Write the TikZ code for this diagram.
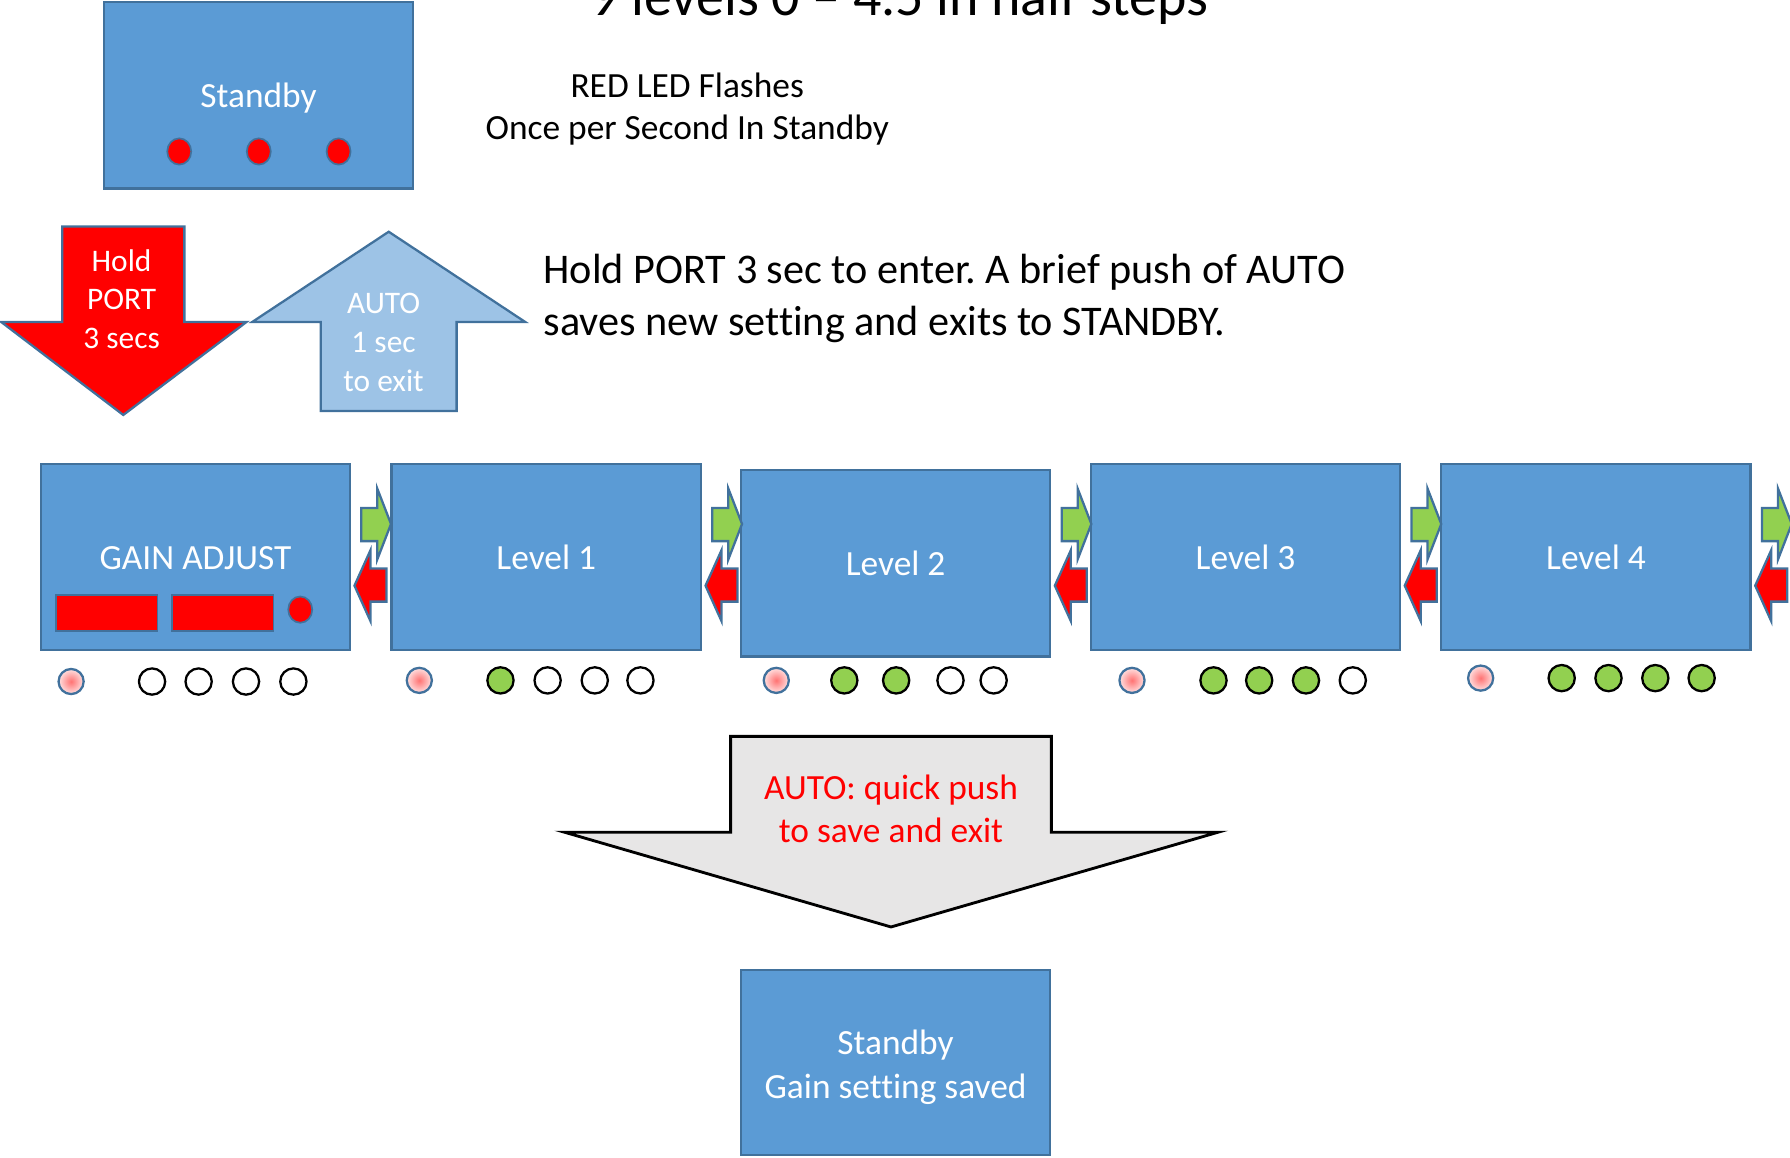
\documentclass[tikz,border=0pt]{standalone}
\usepackage{fontspec}
\setmainfont{Carlito}[Ligatures=NoCommon]
\frenchspacing
\usetikzlibrary{shapes.geometric}
\definecolor{boxblue}{HTML}{5B9BD5}
\definecolor{boxedge}{HTML}{41719C}
\definecolor{lightblue}{HTML}{9DC3E6}
\definecolor{grn}{HTML}{92D050}
\definecolor{graybg}{HTML}{E7E6E6}
\definecolor{ledred}{HTML}{FF0000}
\begin{document}
\begin{tikzpicture}[x=1pt,y=-1pt,
  box/.style={draw=boxedge, line width=2pt, fill=boxblue, minimum width=271pt,
    minimum height=163pt, inner sep=0pt, text=white, align=center,
    font=\fontsize{31}{38}\selectfont},
  oneline/.style={text height=24pt, text depth=2.5pt},
  plain/.style={inner sep=0pt, align=center},
  bigarrow/.style={draw=boxedge, line width=2pt, line join=miter},
  smallarrow/.style={draw=boxedge, line width=2pt, line join=miter},
  reddot/.style={ellipse, draw=boxedge, line width=1.5pt, fill=ledred,
    minimum width=21pt, minimum height=23pt, inner sep=0pt},
  redrect/.style={rectangle, draw=boxedge, line width=1.5pt, fill=ledred,
    minimum width=89pt, minimum height=32pt, inner sep=0pt},
  pinkled/.style={circle, draw=boxedge, line width=2pt, minimum size=22pt,
    inner sep=0pt, inner color=red!55, outer color=red!12},
  offled/.style={circle, draw=black, line width=2pt, minimum size=23pt,
    inner sep=0pt, fill=white},
  onled/.style={offled, fill=grn}]
\useasboundingbox (0,0) rectangle (1568,1014);

% title (cut at top, as in the reference)
\node[plain, anchor=base, font=\fontsize{49}{58}\selectfont] (title) at (788,14)
  {9 levels 0 – 4.5 in half steps};

% top standby box
\node[box, oneline] (sbtop) at (226.5,83.5) {Standby};
\node[reddot] (sd1) at (157,132.7) {};
\node[reddot] (sd2) at (226.7,132.7) {};
\node[reddot] (sd3) at (296.6,132.7) {};

\node[plain, anchor=base, font=\fontsize{31}{37}\selectfont] (redled) at (602,122.6)
  {RED LED Flashes\\Once per Second In Standby};

% big arrows
\draw[bigarrow, fill=ledred] (54.5,198.5) -- (161.5,198.5) -- (161.5,282) -- (216,282)
  -- (108,363.5) -- (1,282) -- (54.5,282) -- cycle;
\node[plain, anchor=base, text=white, font=\fontsize{27.5}{33.5}\selectfont] (holdtxt)
  at (106.5,305) {Hold\\PORT\\3 secs};

\draw[bigarrow, fill=lightblue] (340.5,203) -- (460,282) -- (400,282) -- (400,360)
  -- (281,360) -- (281,282) -- (221,282) -- cycle;
\node[plain, anchor=base, text=white, font=\fontsize{27.5}{34}\selectfont] (autotxt)
  at (336,343) {AUTO\\1 sec\\to exit};

\node[plain, anchor=base west, align=left, font=\fontsize{37}{45.5}\selectfont] (holdport)
  at (476,293.5) {Hold PORT 3 sec to enter. A brief push of AUTO\\saves new setting and exits to STANDBY.};

% row of level boxes
\node[box, oneline, minimum width=270.5pt] (gain) at (171.25,488) {GAIN ADJUST};
\node[box, oneline] (l1) at (478.5,488) {Level 1};
\node[box, oneline] (l2) at (784.5,493.5) {Level 2};
\node[box, oneline] (l3) at (1091,488) {Level 3};
\node[box, oneline] (l4) at (1398,488) {Level 4};

\node[redrect] (gr1) at (93.5,537) {};
\node[redrect] (gr2) at (195,537) {};
\node[reddot] (gd) at (263,534) {};

% step arrows between boxes
\foreach \a in {gain,l1,l2,l3,l4} {
  \coordinate (ga\a) at (\a.east |- 0,445);
  \draw[smallarrow, fill=grn] ([xshift=9pt]ga\a) -- ++(14,0) -- ++(0,-17) -- ++(12,31)
    -- ++(-12,31) -- ++(0,-16) -- ++(-14,0) -- cycle;
  \coordinate (ra\a) at (\a.east |- 0,498);
  \draw[smallarrow, fill=ledred] ([xshift=31pt]ra\a) -- ++(-14,0) -- ++(0,-16) -- ++(-14,31)
    -- ++(14,31) -- ++(0,-17) -- ++(14,0) -- cycle;
}

% LED rows
\node[pinkled] (p0) at (62.3,597) {};
\foreach \x [count=\i] in {133.2,174,215.5,257} \node[offled] (a\i) at (\x,597) {};

\node[pinkled] (p1) at (367.3,596) {};
\node[onled] (b1) at (438.4,596) {};
\foreach \x [count=\i from 2] in {479.7,521,561} \node[offled] (b\i) at (\x,596) {};

\node[pinkled] (p2) at (680,596) {};
\foreach \x [count=\i] in {739.6,785} \node[onled] (c\i) at (\x,596) {};
\foreach \x [count=\i from 3] in {832.6,870.4} \node[offled] (c\i) at (\x,596) {};

\node[pinkled] (p3) at (991.6,596) {};
\foreach \x [count=\i] in {1063,1103,1144} \node[onled] (d\i) at (\x,596) {};
\node[offled] (d4) at (1185,596) {};

\node[pinkled] (p4) at (1297,594) {};
\foreach \x [count=\i] in {1368,1409,1450,1490.6} \node[onled] (e\i) at (\x,594) {};

% gray exit arrow
\draw[line width=2.5pt, draw=black, fill=graybg, line join=miter] (640,645) -- (921,645)
  -- (921,729) -- (1067,729) -- (780.5,812) -- (494.5,729) -- (640,729) -- cycle;
\node[plain, anchor=base, text=ledred, font=\fontsize{31}{37.5}\selectfont] (autoquick)
  at (780.5,738) {AUTO: quick push\\to save and exit};

% bottom standby box
\node[box, minimum height=162pt, text height=69pt, text depth=7pt] (sbbot) at (784.5,931)
  {Standby\\Gain setting saved};
\end{tikzpicture}
\end{document}
